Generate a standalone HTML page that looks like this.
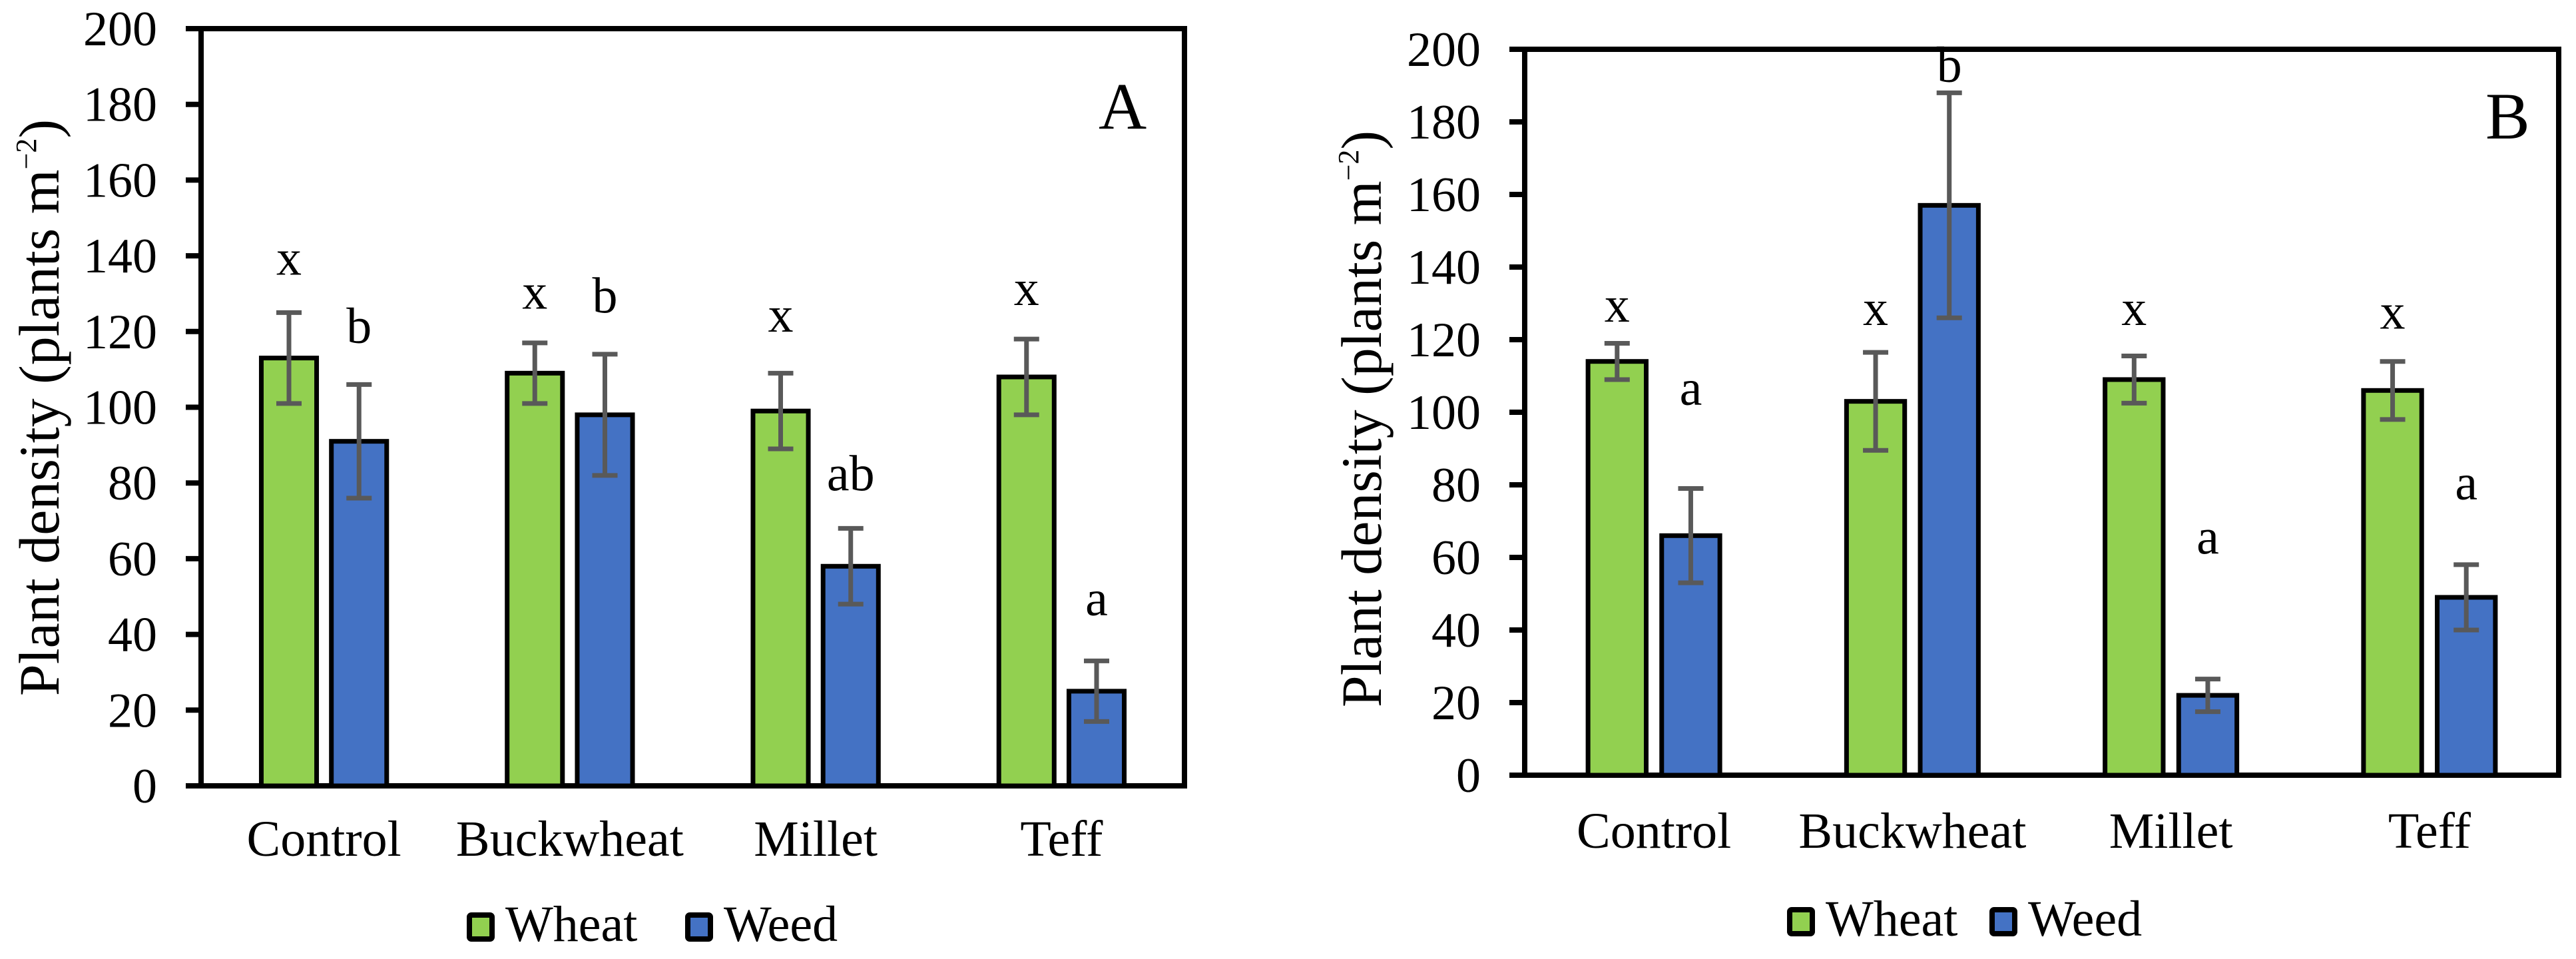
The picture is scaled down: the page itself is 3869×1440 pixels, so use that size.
<!DOCTYPE html>
<html><head><meta charset="utf-8"><style>
html,body{margin:0;padding:0;background:#fff;}
svg{display:block;font-family:"Liberation Serif",serif;}
</style></head><body>
<svg id="chart" width="3869" height="1440" viewBox="0 0 3869 1440" xmlns="http://www.w3.org/2000/svg"></svg>
<script>
const categories = ["Control","Buckwheat","Millet","Teff"];
const yTicks = [0,20,40,60,80,100,120,140,160,180,200];
const wheatA = [113,109,99,108];
const wheatErrA = [12,8,10,10];
const weedA = [91,98,58,25];
const weedErrA = [15,16,10,8];
const wheatLetA = ["x","x","x","x"];
const weedLetA = ["b","b","ab","a"];
const wheatLetYA = [135,126,120,127];
const weedLetYA = [117,125,78,45];
const wheatB = [114,103,109,106];
const wheatErrB = [5,13.5,6.5,8];
const weedB = [66,157,22,49];
const weedErrB = [13,31,4.5,9];
const wheatLetB = ["x","x","x","x"];
const weedLetB = ["a","b","a","a"];
const wheatLetYB = [125,124,124,123];
const weedLetYB = [102,191,61,76];

const NS="http://www.w3.org/2000/svg";
const svg=document.getElementById('chart');
function mk(tag,attrs,parent){const e=document.createElementNS(NS,tag);for(const k in attrs)e.setAttribute(k,attrs[k]);(parent||svg).appendChild(e);return e;}

function panel(cfg){
  const g=mk('g',{});
  
  
  const L=cfg.left,R=cfg.right,T=cfg.top,B=cfg.bottom;
  const y=v=>B-(v/200)*(B-T);
  const step=(R-L)/categories.length;
  const cx=i=>L+step*(i+0.5);
  const bw=step*0.225, off=step*0.03;
  // frame
  const fr=mk('rect',{x:L,y:T,width:R-L,height:B-T,fill:'none',stroke:'#000','stroke-width':8},g);
  
  
  // ticks
  yTicks.forEach(t=>{
    const ln=mk('line',{x1:L-23,x2:L,y1:y(t),y2:y(t),stroke:'#000','stroke-width':8},g);
    
    
    const tx=mk('text',{x:cfg.tickX,y:y(t)+25,'text-anchor':'end','font-size':74},g);
    tx.textContent=t;
    
    
  });
  function bar(i,val,err,left,fill,name,let,letY){
    const r=mk('rect',{x:left,y:y(val),width:bw,height:B-y(val),fill:fill,stroke:'#000','stroke-width':7},g);
    
    
    const mx=left+bw/2;
    const e=mk('path',{d:`M${mx},${y(val+err)}V${y(val-err)}M${mx-19},${y(val+err)}H${mx+19}M${mx-19},${y(val-err)}H${mx+19}`,stroke:'#595959','stroke-width':7,fill:'none'},g);
    
    
    const lt=mk('text',{x:mx,y:y(letY),'text-anchor':'middle','font-size':76},g);
    lt.textContent=let;
    
    
  }
  categories.forEach((c,i)=>{
    bar(i,cfg.wheat[i],cfg.wheatErr[i],cx(i)-off-bw,'#92D050','wheat',cfg.wheatLet[i],cfg.wheatLetY[i]);
    bar(i,cfg.weed[i],cfg.weedErr[i],cx(i)+off,'#4472C4','weed',cfg.weedLet[i],cfg.weedLetY[i]);
    const cl=mk('text',{x:cx(i),y:cfg.catY,'text-anchor':'middle','font-size':76},g);
    cl.textContent=c;
    
    
  });
  // panel letter
  const pl=mk('text',{x:cfg.letterX,y:cfg.letterY,'font-size':100},g);
  pl.textContent=cfg.letter;
  
  
  // y title
  const yt=mk('text',{x:0,y:0,'text-anchor':'middle','font-size':86,transform:`translate(${cfg.titleX},${cfg.titleY}) rotate(-90)`},g);
  yt.innerHTML='Plant density (plants m<tspan dy="-34" font-size="44">−2</tspan><tspan dy="34">)</tspan>';
  
  
  // legend
  const lg=mk('g',{},g);
  
  
  [['Wheat','#92D050',cfg.legX1],['Weed','#4472C4',cfg.legX2]].forEach(([n,c,x])=>{
    const s=mk('rect',{x:x+4,y:cfg.legY-39,width:34,height:36,fill:c,stroke:'#000','stroke-width':8,rx:3},lg);
    
    
    const t=mk('text',{x:x+58,y:cfg.legY,'font-size':76},lg);
    t.textContent=n;
    
    
  });
}
panel({id:'panel-a',left:302,right:1779,top:43,bottom:1180,tickX:236,
  wheat:wheatA,wheatErr:wheatErrA,weed:weedA,weedErr:weedErrA,
  wheatLet:wheatLetA,weedLet:weedLetA,wheatLetY:wheatLetYA,weedLetY:weedLetYA,
  catY:1285,letter:'A',letterX:1650,letterY:193,titleX:88,titleY:612,
  legX1:701,legX2:1029,legY:1413});
panel({id:'panel-b',left:2290,right:3843,top:74,bottom:1164,tickX:2224,
  wheat:wheatB,wheatErr:wheatErrB,weed:weedB,weedErr:weedErrB,
  wheatLet:wheatLetB,weedLet:weedLetB,wheatLetY:wheatLetYB,weedLetY:weedLetYB,
  catY:1273,letter:'B',letterX:3733,letterY:208,titleX:2074,titleY:629,
  legX1:2684,legX2:2988,legY:1405});
</script>
</body></html>
